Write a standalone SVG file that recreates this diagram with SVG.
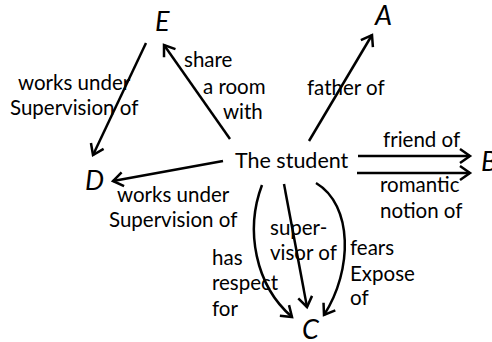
<svg xmlns="http://www.w3.org/2000/svg" width="492" height="342" viewBox="0 0 492 342">
  <defs>
    <style>
      .lbl { font-family: Lato, "Open Sans", sans-serif; font-size: 20.5px; fill: #000; }
      .main { font-size: 21.5px; }
      .node { font-family: Lato, "Open Sans", sans-serif; font-size: 27px; font-style: italic; fill: #000; }
      .edge { fill: none; stroke: #000; stroke-width: 2.5; marker-end: url(#arrow); }
    </style>
    <marker id="arrow" markerUnits="userSpaceOnUse" markerWidth="20" markerHeight="20" viewBox="-12 -10 14 20" refX="0" refY="0" orient="auto">
      <path d="M -10 -7 L 0 0 L -10 7" fill="none" stroke="#000" stroke-width="2.5"/>
    </marker>
  </defs>
  <rect width="492" height="342" fill="#fff"/>

  <g id="connectors">
    <path class="edge" d="M 230 139 L 164 45"/>
    <path class="edge" d="M 146 43 L 93 155"/>
    <path class="edge" d="M 223 161 L 113 181"/>
    <path class="edge" d="M 309 141 L 372 35"/>
    <path class="edge" d="M 358 156 L 470 156"/>
    <path class="edge" d="M 357 173 L 470 173"/>
    <path class="edge" d="M 262 185 C 245 230, 255 285, 292 317"/>
    <path class="edge" d="M 284 184 L 307 307"/>
    <path class="edge" d="M 316 183 C 353 205, 353 270, 324 315"/>
  </g>

  <g id="student"><text class="lbl main" x="235" y="168">The student</text></g>
  <g id="node-E"><text class="node" x="155" y="31">E</text></g>
  <g id="node-A"><text class="node" x="375" y="25">A</text></g>
  <g id="node-B"><text class="node" x="481" y="171">B</text></g>
  <g id="node-D"><text class="node" x="85" y="190">D</text></g>
  <g id="node-C"><text class="node" x="302" y="339">C</text></g>

  <g id="edge-labels">
    <text class="lbl" x="184" y="67">share</text>
    <text class="lbl" x="203" y="94">a room</text>
    <text class="lbl" x="223" y="119">with</text>
    <text class="lbl" x="18" y="90">works under</text>
    <text class="lbl" x="10" y="115">Supervision of</text>
    <text class="lbl" x="307" y="95">father of</text>
    <text class="lbl" x="383" y="147">friend of</text>
    <text class="lbl" x="380" y="192">romantic</text>
    <text class="lbl" x="380" y="218">notion of</text>
    <text class="lbl" x="117" y="202">works under</text>
    <text class="lbl" x="109" y="227">Supervision of</text>
    <text class="lbl" x="212" y="265">has</text>
    <text class="lbl" x="212" y="290">respect</text>
    <text class="lbl" x="212" y="316">for</text>
    <text class="lbl" x="270" y="235">super-</text>
    <text class="lbl" x="270" y="260">visor of</text>
    <text class="lbl" x="350" y="255">fears</text>
    <text class="lbl" x="350" y="281">Expose</text>
    <text class="lbl" x="350" y="305">of</text>
  </g>
</svg>
